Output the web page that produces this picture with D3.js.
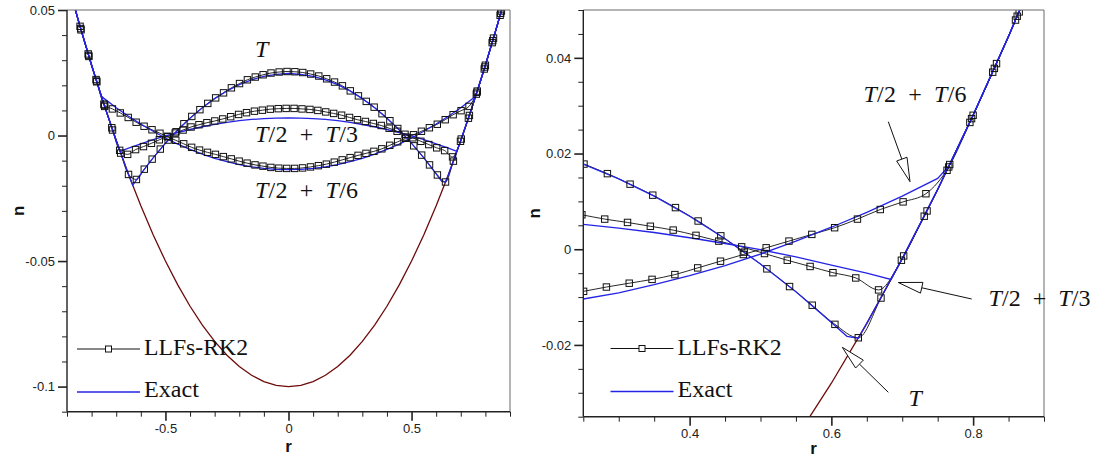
<!DOCTYPE html>
<html><head><meta charset="utf-8">
<script src="https://cdn.jsdelivr.net/npm/d3@7"></script>
<style>
html,body{margin:0;padding:0;background:#fff;}
svg{display:block;}
.tick text{font-family:'Liberation Sans',Arial,sans-serif;font-size:13px;fill:#222;}
</style></head><body>
<svg id="chart" width="1105" height="458"></svg>
<script>
// ---------------- data ----------------
// bottom topography
const bedR = [-0.9,-0.85,-0.8,-0.75,-0.7,-0.65,-0.6,-0.55,-0.5,-0.45,-0.4,-0.35,-0.3,-0.25,-0.2,-0.15,-0.1,-0.05,0,0.05,0.1,0.15,0.2,0.25,0.3,0.35,0.4,0.45,0.5,0.55,0.6,0.65,0.7,0.75,0.8,0.85,0.9];
const bedN = [0.062,0.0445,0.028,0.0125,-0.002,-0.0155,-0.028,-0.0395,-0.05,-0.0595,-0.068,-0.0755,-0.082,-0.0875,-0.092,-0.0955,-0.098,-0.0995,-0.1,-0.0995,-0.098,-0.0955,-0.092,-0.0875,-0.082,-0.0755,-0.068,-0.0595,-0.05,-0.0395,-0.028,-0.0155,-0.002,0.0125,0.028,0.0445,0.062];

// exact solutions
const exactTR = [-0.9,-0.85,-0.8,-0.75,-0.7,-0.65,-0.633,-0.6,-0.55,-0.5,-0.45,-0.4,-0.35,-0.3,-0.25,-0.2,-0.15,-0.1,-0.05,0,0.05,0.1,0.15,0.2,0.25,0.3,0.35,0.4,0.45,0.5,0.55,0.6,0.622,0.638,0.65,0.7,0.75,0.8,0.85,0.9];
const exactTN = [0.062,0.0445,0.028,0.0125,-0.002,-0.0155,-0.0198,-0.0153,-0.0089,-0.0031,0.0022,0.0069,0.0111,0.0147,0.0178,0.0203,0.0222,0.0236,0.0244,0.0247,0.0244,0.0236,0.0222,0.0203,0.0178,0.0147,0.0111,0.0069,0.0022,-0.0031,-0.0089,-0.0153,-0.0182,-0.0186,-0.0155,-0.002,0.0125,0.028,0.0445,0.062];

const exactT3R = [-0.9,-0.85,-0.8,-0.75,-0.7,-0.684,-0.65,-0.6,-0.55,-0.5,-0.45,-0.4,-0.35,-0.3,-0.25,-0.2,-0.15,-0.1,-0.05,0,0.05,0.1,0.15,0.2,0.25,0.3,0.35,0.4,0.45,0.5,0.55,0.6,0.65,0.684,0.7,0.75,0.8,0.85,0.9];
const exactT3N = [0.062,0.0445,0.028,0.0125,-0.002,-0.0063,-0.005,-0.0033,-0.0016,-0.0001,0.0012,0.0024,0.0035,0.0044,0.0052,0.0059,0.0064,0.0067,0.0069,0.0070,0.0069,0.0067,0.0064,0.0059,0.0052,0.0044,0.0035,0.0024,0.0012,-0.0001,-0.0016,-0.0033,-0.005,-0.0063,-0.002,0.0125,0.028,0.0445,0.062];

const exactT6R = [-0.9,-0.85,-0.8,-0.761,-0.75,-0.7,-0.65,-0.6,-0.55,-0.5,-0.45,-0.4,-0.35,-0.3,-0.25,-0.2,-0.15,-0.1,-0.05,0,0.05,0.1,0.15,0.2,0.25,0.3,0.35,0.4,0.45,0.5,0.55,0.6,0.65,0.7,0.75,0.766,0.8,0.85,0.9];
const exactT6N = [0.062,0.0445,0.028,0.0157,0.0148,0.0111,0.0077,0.0046,0.0017,-0.001,-0.0034,-0.0055,-0.0074,-0.0091,-0.0104,-0.0116,-0.0125,-0.0131,-0.0135,-0.0136,-0.0135,-0.0131,-0.0125,-0.0116,-0.0104,-0.0091,-0.0074,-0.0055,-0.0034,-0.001,0.0017,0.0046,0.0077,0.0111,0.0148,0.0174,0.028,0.0445,0.062];

// LLFs-RK2 numerical solutions
const numTR = [-0.876,-0.843,-0.811,-0.779,-0.747,-0.715,-0.682,-0.650,-0.618,-0.586,-0.554,-0.521,-0.489,-0.457,-0.425,-0.393,-0.360,-0.328,-0.296,-0.264,-0.232,-0.199,-0.167,-0.135,-0.103,-0.071,-0.038,-0.006,0.026,0.058,0.090,0.123,0.155,0.187,0.219,0.251,0.284,0.316,0.348,0.380,0.412,0.444,0.477,0.509,0.541,0.573,0.605,0.638,0.670,0.702,0.735,0.767,0.800,0.833,0.865,0.896];
const numTN = [0.0533,0.0421,0.0315,0.0214,0.0116,0.0022,-0.0070,-0.0155,-0.0175,-0.0134,-0.0094,-0.0054,-0.0018,0.0015,0.0047,0.0076,0.0103,0.0128,0.0150,0.0170,0.0190,0.0207,0.0222,0.0233,0.0242,0.0249,0.0253,0.0255,0.0254,0.0251,0.0245,0.0237,0.0226,0.0213,0.0198,0.0178,0.0158,0.0136,0.0113,0.0087,0.0059,0.0028,-0.0006,-0.0041,-0.0078,-0.0117,-0.0157,-0.0185,-0.0102,-0.0014,0.0080,0.0177,0.0280,0.0388,0.0496,0.0606];

const numT3R = [-0.879,-0.847,-0.814,-0.782,-0.750,-0.718,-0.686,-0.6536,-0.6214,-0.5892,-0.5570,-0.5248,-0.4926,-0.4604,-0.4282,-0.3960,-0.3638,-0.3316,-0.2994,-0.2672,-0.2350,-0.2028,-0.1706,-0.1384,-0.1062,-0.0740,-0.0418,-0.0096,0.0226,0.0548,0.0870,0.1192,0.1514,0.1836,0.2158,0.2480,0.2802,0.3124,0.3446,0.3768,0.4090,0.4412,0.4734,0.5056,0.5378,0.5700,0.6022,0.6344,0.6666,0.6988,0.7310,0.7632,0.7954,0.8276,0.8598,0.8920];
const numT3N = [0.0545,0.0435,0.0325,0.0223,0.0125,0.0031,-0.0059,-0.0075,-0.0056,-0.0044,-0.0031,-0.0017,-0.0003,0.0010,0.0022,0.0034,0.0043,0.0051,0.0058,0.0066,0.0075,0.0084,0.0091,0.0097,0.0101,0.0105,0.0107,0.0108,0.0108,0.0106,0.0104,0.0100,0.0094,0.0088,0.0081,0.0072,0.0063,0.0056,0.0048,0.0040,0.0029,0.0017,0.0005,-0.0009,-0.0023,-0.0036,-0.0049,-0.0060,-0.0085,-0.0023,0.0069,0.0165,0.0265,0.0370,0.0479,0.0591];

const numT6R = [-0.8766,-0.8444,-0.8122,-0.7800,-0.7478,-0.7156,-0.6834,-0.6512,-0.6190,-0.5868,-0.5546,-0.5224,-0.4902,-0.4580,-0.4258,-0.3936,-0.3614,-0.3292,-0.2970,-0.2648,-0.2326,-0.2004,-0.1682,-0.1360,-0.1038,-0.0716,-0.0394,-0.0072,0.0250,0.0572,0.0894,0.1216,0.1538,0.1860,0.2182,0.2504,0.2826,0.3148,0.3470,0.3792,0.4114,0.4436,0.4758,0.5080,0.5402,0.5724,0.6046,0.6368,0.6690,0.7012,0.7334,0.7656,0.7978,0.8300,0.8622,0.8944];
const numT6N = [0.0537,0.0426,0.0319,0.0217,0.0121,0.0106,0.0090,0.0072,0.0053,0.0037,0.0023,0.0009,-0.0005,-0.0019,-0.0033,-0.0047,-0.0058,-0.0067,-0.0075,-0.0084,-0.0093,-0.0102,-0.0110,-0.0117,-0.0122,-0.0127,-0.0130,-0.0131,-0.0131,-0.0129,-0.0125,-0.0120,-0.0114,-0.0106,-0.0097,-0.0088,-0.0079,-0.0071,-0.0063,-0.0053,-0.0039,-0.0025,-0.0011,0.0003,0.0017,0.0031,0.0045,0.0063,0.0083,0.0099,0.0116,0.0172,0.0273,0.0378,0.0487,0.0600];

// axis ticks
const leftXMajor = [-0.5,0,0.5];
const leftXLabels = ["-0.5","0","0.5"];
const leftXMinor = [-0.9,-0.8,-0.7,-0.6,-0.4,-0.3,-0.2,-0.1,0.1,0.2,0.3,0.4,0.6,0.7,0.8,0.9];
const leftYMajor = [-0.1,-0.05,0,0.05];
const leftYLabels = ["-0.1","-0.05","0","0.05"];
const leftYMinor = [-0.11,-0.09,-0.08,-0.07,-0.06,-0.04,-0.03,-0.02,-0.01,0.01,0.02,0.03,0.04];
const rightXMajor = [0.4,0.6,0.8];
const rightXLabels = ["0.4","0.6","0.8"];
const rightXMinor = [0.25,0.3,0.35,0.45,0.5,0.55,0.65,0.7,0.75,0.85,0.9];
const rightYMajor = [-0.02,0,0.02,0.04];
const rightYLabels = ["-0.02","0","0.02","0.04"];
const rightYMinor = [-0.035,-0.03,-0.025,-0.015,-0.01,-0.005,0.005,0.01,0.015,0.025,0.03,0.035,0.045,0.05];

const seriesNames = ["LLFs-RK2","Exact"];
const xTitle = "r", yTitle = "n";

// ---------------- drawing ----------------
const BLUE = "#2424e6", RED = "#6e0a0a", BLACK = "#111";
const SERIF = "'Liberation Serif','Times New Roman',serif";
const SANS = "'Liberation Sans',Arial,sans-serif";
const svg = d3.select("#chart");
const defs = svg.append("defs");
const zip = (a,b) => a.map((v,i)=>[v,b[i]]);

function panel(id, x, y, xMaj, xLab, xMin, yMaj, yLab, yMin) {
  const [x0,x1] = x.range(), [y0,y1] = y.range(); // y0 bottom, y1 top
  defs.append("clipPath").attr("id",id).append("rect")
    .attr("x",x0).attr("y",y1).attr("width",x1-x0).attr("height",y0-y1);
  const g = svg.append("g");
  const plot = g.append("g").attr("clip-path",`url(#${id})`);
  const lin = d3.line().x(d=>x(d[0])).y(d=>y(d[1]));
  const smooth = d3.line().curve(d3.curveMonotoneX).x(d=>x(d[0])).y(d=>y(d[1]));

  plot.append("path").datum(zip(bedR,bedN)).attr("d",lin)
    .attr("fill","none").attr("stroke",RED).attr("stroke-width",1.3);

  const nums = [zip(numTR,numTN), zip(numT3R,numT3N), zip(numT6R,numT6N)];
  nums.forEach(s => plot.append("path").datum(s).attr("d",smooth)
    .attr("fill","none").attr("stroke",BLACK).attr("stroke-width",0.9));

  const exs = [zip(exactTR,exactTN), zip(exactT3R,exactT3N), zip(exactT6R,exactT6N)];
  exs.forEach(s => plot.append("path").datum(s).attr("d",lin)
    .attr("fill","none").attr("stroke",BLUE).attr("stroke-width",1.3));

  const m = 6.4;
  nums.forEach(s => plot.append("g").selectAll("rect").data(s).join("rect")
    .attr("x",d=>x(d[0])-m/2).attr("y",d=>y(d[1])-m/2)
    .attr("width",m).attr("height",m)
    .attr("fill","none").attr("stroke",BLACK).attr("stroke-width",1));

  // frame
  g.append("line").attr("x1",x0).attr("x2",x1).attr("y1",y1).attr("y2",y1)
    .attr("stroke","#6a6a6a").attr("stroke-width",1);
  g.append("line").attr("x1",x1).attr("x2",x1).attr("y1",y1).attr("y2",y0)
    .attr("stroke","#6a6a6a").attr("stroke-width",1);

  // axes
  const ax = (sel) => { sel.select(".domain").remove(); sel.selectAll("line").attr("stroke","#222").attr("stroke-width",1); };
  g.append("g").attr("transform",`translate(0,${y0})`)
    .call(d3.axisBottom(x).tickValues(xMin).tickSize(5).tickSizeOuter(0).tickFormat("")).call(ax);
  g.append("g").attr("transform",`translate(0,${y0})`)
    .call(d3.axisBottom(x).tickValues(xMaj).tickSize(9).tickPadding(3).tickSizeOuter(0).tickFormat((d,i)=>xLab[i])).call(ax)
    .selectAll("line").attr("stroke-width",1.6);
  g.append("g").attr("transform",`translate(${x0},0)`)
    .call(d3.axisLeft(y).tickValues(yMin).tickSize(5).tickSizeOuter(0).tickFormat("")).call(ax);
  g.append("g").attr("transform",`translate(${x0},0)`)
    .call(d3.axisLeft(y).tickValues(yMaj).tickSize(9).tickPadding(3).tickSizeOuter(0).tickFormat((d,i)=>yLab[i])).call(ax)
    .selectAll("line").attr("stroke-width",1.6);
  g.append("line").attr("x1",x0).attr("x2",x1).attr("y1",y0).attr("y2",y0)
    .attr("stroke","#222").attr("stroke-width",1.4);
  g.append("line").attr("x1",x0).attr("x2",x0).attr("y1",y1).attr("y2",y0)
    .attr("stroke","#222").attr("stroke-width",1.4);

  // axis titles
  g.append("text").attr("x",(x0+x1)/2).attr("y",Math.min(y0+40,454)).attr("text-anchor","middle")
    .style("font-family",SANS).style("font-weight","bold")
    .style("font-size","17px").attr("fill","#111").text(xTitle);
  g.append("text").attr("transform",`translate(${x0-49},${(y0+y1)/2}) rotate(-90)`)
    .attr("text-anchor","middle").attr("dy","0.35em")
    .style("font-family",SANS).style("font-weight","bold")
    .style("font-size","17px").attr("fill","#111").text(yTitle);
  return g;
}

function legend(g, lx, ly) {
  g.append("line").attr("x1",lx).attr("x2",lx+63).attr("y1",ly).attr("y2",ly)
    .attr("stroke",BLACK).attr("stroke-width",1);
  g.append("rect").attr("x",lx+31.5-3).attr("y",ly-3).attr("width",6).attr("height",6)
    .attr("fill","#fff").attr("stroke",BLACK).attr("stroke-width",1);
  g.append("text").attr("x",lx+67).attr("y",ly+6)
    .style("font-family",SERIF).style("font-size","23px").attr("fill","#111")
    .attr("textLength",104).attr("lengthAdjust","spacingAndGlyphs").text(seriesNames[0]);
  g.append("line").attr("x1",lx).attr("x2",lx+63).attr("y1",ly+43).attr("y2",ly+43)
    .attr("stroke",BLUE).attr("stroke-width",1.3);
  g.append("text").attr("x",lx+67).attr("y",ly+48)
    .style("font-family",SERIF).style("font-size","23px").attr("fill","#111")
    .attr("textLength",55).attr("lengthAdjust","spacingAndGlyphs").text(seriesNames[1]);
}

function mathLabel(parent, x, yb, parts, len) {
  const t = parent.append("text").attr("x",x).attr("y",yb)
    .style("font-family",SERIF).style("font-size","24px").attr("fill","#111");
  if (len) t.attr("textLength",len).attr("lengthAdjust","spacing");
  parts.forEach(p => t.append("tspan").style("font-style",p[1]?"italic":"normal").text(p[0]));
}
const lblT = [["T",1]];
const lblT3 = [["T",1],["/2\u2002+\u2002",0],["T",1],["/3",0]];
const lblT6 = [["T",1],["/2\u2002+\u2002",0],["T",1],["/6",0]];

function arrow(parent, sx, sy, tx, ty) {
  const dx = tx-sx, dy = ty-sy, L = Math.hypot(dx,dy), ux = dx/L, uy = dy/L;
  const hl = 24, hw = 5.5;
  const bx = tx-ux*hl, by = ty-uy*hl;
  parent.append("line").attr("x1",sx).attr("y1",sy).attr("x2",bx).attr("y2",by)
    .attr("stroke","#111").attr("stroke-width",1);
  parent.append("path").attr("d",`M${tx},${ty}L${bx-uy*hw},${by+ux*hw}L${bx+uy*hw},${by-ux*hw}Z`)
    .attr("fill","#fff").attr("stroke","#111").attr("stroke-width",1);
}

const xL = d3.scaleLinear().domain([-0.9,0.9]).range([67,510]);
const yL = d3.scaleLinear().domain([-0.11,0.05]).range([411.7,10]);
const xR = d3.scaleLinear().domain([0.25,0.9]).range([583.3,1044]);
const yR = d3.scaleLinear().domain([-0.035,0.05]).range([416.7,10]);

const gL = panel("clipL", xL, yL, leftXMajor, leftXLabels, leftXMinor, leftYMajor, leftYLabels, leftYMinor);
const gR = panel("clipR", xR, yR, rightXMajor, rightXLabels, rightXMinor, rightYMajor, rightYLabels, rightYMinor);

legend(gL, 77, 349);
legend(gR, 610.5, 348.5);

mathLabel(gL, 255, 57, lblT, 0);
mathLabel(gL, 255, 142, lblT3, 103);
mathLabel(gL, 255, 197.5, lblT6, 103);

mathLabel(gR, 863.5, 101.5, lblT6, 103);
mathLabel(gR, 988.5, 306, lblT3, 102);
mathLabel(gR, 908.5, 406, lblT, 0);

arrow(gR, 888.3, 121.7, 910, 181.7);
arrow(gR, 971.7, 299, 898.3, 282.5);
arrow(gR, 888.3, 392.3, 842.3, 347.3);
</script>
</body></html>
